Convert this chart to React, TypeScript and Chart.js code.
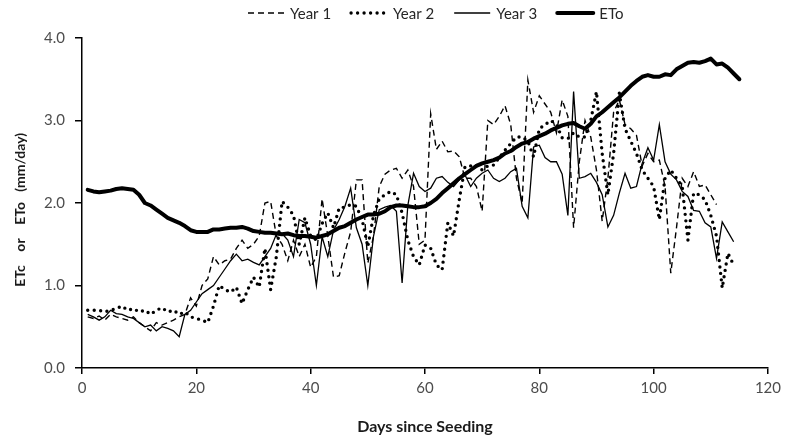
import React, { useEffect, useRef } from "react";
import { Chart, registerables } from "chart.js";

Chart.register(...registerables);

// Days since seeding (x values)
const days = Array.from({ length: 115 }, (_, i) => i + 1);

// Crop ET (mm/day) for each year, and reference ETo (mm/day)
const year1 = [
  0.62, 0.6, 0.63, 0.58, 0.65, 0.62, 0.6, 0.58, 0.62, 0.55,
  0.5, 0.45, 0.55, 0.52, 0.55, 0.58, 0.62, 0.65, 0.85, 0.75,
  1.0, 1.08, 1.35, 1.25, 1.3, 1.32, 1.45, 1.55, 1.45, 1.5,
  1.6, 2.0, 2.02, 1.6, 1.5, 1.3, 1.55, 1.35, 1.5, 1.22,
  1.35, 2.05, 1.6, 1.1, 1.12, 1.4, 1.65, 2.28, 2.28, 1.27,
  1.6, 2.2, 2.35, 2.4, 2.42, 2.3, 2.4, 2.2, 1.5, 1.55,
  3.08, 2.65, 2.75, 2.62, 2.63, 2.56, 2.3, 2.3, 2.2, 1.9,
  3.0, 2.95, 3.05, 3.18, 2.95, 2.3, 2.0, 3.49, 3.1, 3.3,
  3.2, 3.1, 2.85, 3.25, 3.05, 1.7, 2.5, 3.0, 2.8, 2.4,
  1.78, 2.3, 3.1, 3.25, 2.95, 2.9, 2.82, 2.45, 2.6, 2.5,
  2.52, 2.2, 1.15, 1.7, 2.3, 2.2, 2.38, 2.2, 2.22, 2.1,
  1.98,
];

const year2 = [
  0.7, 0.7, 0.7, 0.68, 0.7, 0.72, 0.75, 0.7, 0.72, 0.68,
  0.7, 0.65, 0.7, 0.73, 0.68, 0.7, 0.65, 0.68, 0.62, 0.6,
  0.58, 0.55, 0.75, 1.0, 0.95, 0.92, 0.98, 0.78, 0.95, 1.1,
  0.98, 1.45, 0.95, 1.35, 2.02, 1.95, 1.85, 1.5, 1.82, 1.6,
  1.55, 1.75, 1.88, 1.7, 1.94, 1.95, 1.98, 1.96, 1.8, 1.47,
  1.85, 2.05, 2.1, 2.14, 2.1, 1.88, 1.55, 1.35, 1.25, 1.49,
  1.45, 1.25, 1.19, 1.76, 1.6, 2.04, 2.44, 2.45, 2.46, 2.4,
  2.45, 2.46, 2.55, 2.64, 2.72, 2.8, 2.8, 2.75, 2.56, 2.9,
  2.95, 3.0, 2.95, 2.79, 2.78, 2.85, 2.8, 2.8, 3.0, 3.35,
  2.6, 2.1, 2.6, 3.33, 2.9, 2.75, 2.6, 2.4, 2.3, 2.2,
  1.8, 2.3, 2.4, 2.3, 2.2, 1.55, 2.12, 2.1, 2.04, 1.85,
  1.6, 0.97, 1.39, 1.25,
];

const year3 = [
  0.65, 0.62, 0.58, 0.62, 0.7, 0.66, 0.65, 0.62, 0.6, 0.55,
  0.5, 0.52, 0.45, 0.5, 0.48, 0.45, 0.38, 0.65, 0.7, 0.8,
  0.9, 0.95, 1.0, 1.1, 1.2, 1.3, 1.38, 1.3, 1.32, 1.28,
  1.25, 1.35, 1.45, 1.62, 1.63, 1.55, 1.35, 1.8, 1.76, 1.5,
  1.0, 1.59, 1.35, 1.67, 1.8, 1.96, 2.18, 1.7, 1.5, 1.0,
  1.6, 1.92, 1.95, 1.97, 1.9, 1.03, 1.97, 2.36, 2.2, 2.14,
  2.18, 2.3, 2.32, 2.25, 2.2, 2.28, 2.34, 2.2, 2.3, 2.36,
  2.4, 2.3, 2.26, 2.3, 2.38, 2.42, 1.96, 1.82, 2.68, 2.7,
  2.55, 2.5, 2.5, 2.35, 1.85, 3.35, 2.3, 2.32, 2.36, 2.25,
  2.1, 1.71, 1.85, 2.12, 2.36, 2.18, 2.2, 2.48, 2.67, 2.52,
  2.95, 2.5, 2.35, 2.28, 2.14, 2.08, 1.91, 1.9, 1.76, 1.71,
  1.33, 1.77, 1.65, 1.53,
];

const eto = [
  2.16, 2.14, 2.13, 2.14, 2.15, 2.17, 2.18, 2.17, 2.16, 2.1,
  2.0, 1.97, 1.92, 1.87, 1.82, 1.79, 1.76, 1.72, 1.67, 1.65,
  1.65, 1.65, 1.68, 1.68, 1.69, 1.7, 1.7, 1.71, 1.69, 1.66,
  1.65, 1.64, 1.64, 1.63, 1.62, 1.63, 1.61, 1.6, 1.6, 1.59,
  1.58, 1.6, 1.62, 1.66, 1.7, 1.72, 1.76, 1.8, 1.83, 1.86,
  1.86, 1.87, 1.9, 1.95, 1.97, 1.97, 1.96, 1.95, 1.95, 1.96,
  2.0, 2.05, 2.12, 2.18, 2.24, 2.3, 2.35, 2.4, 2.45, 2.48,
  2.5, 2.52, 2.55, 2.6, 2.63, 2.68, 2.72, 2.74, 2.78, 2.81,
  2.84, 2.88, 2.91, 2.94, 2.96, 2.97, 2.93, 2.9, 2.96, 3.05,
  3.1, 3.16, 3.22, 3.28, 3.35, 3.42, 3.48, 3.53, 3.55, 3.53,
  3.53, 3.56, 3.55, 3.62, 3.66, 3.7, 3.71, 3.7, 3.72, 3.75,
  3.68, 3.69, 3.64, 3.57, 3.5,
];

const seriesLabels = ["Year 1", "Year 2", "Year 3", "ETo"];
const xTitle = "Days since Seeding";
const yTitle = "ETc    or    ETo   (mm/day)    ";

const FONT = "Lato, 'Open Sans', sans-serif";

const toPoints = (vals: number[]) => vals.map((v, i) => ({ x: days[i], y: v }));

const legendPlugin = {
  id: "excelLegend",
  afterDraw(chart: any) {
    const ctx = chart.ctx;
    const y = 13;
    let x = 248;
    const sampleW = 36;
    ctx.save();
    ctx.font = `15px ${FONT}`;
    ctx.textBaseline = "middle";
    chart.data.datasets.forEach((ds: any) => {
      ctx.beginPath();
      ctx.setLineDash(ds.borderDash || []);
      ctx.lineCap = ds.borderCapStyle || "butt";
      ctx.lineWidth = ds.borderWidth;
      ctx.strokeStyle = ds.borderColor;
      ctx.moveTo(x, y);
      ctx.lineTo(x + sampleW, y);
      ctx.stroke();
      x += sampleW + 6;
      ctx.setLineDash([]);
      ctx.fillStyle = "#262626";
      ctx.fillText(ds.label, x, y + 1);
      x += ctx.measureText(ds.label).width + 20;
    });
    ctx.restore();
  },
};

export default function App() {
  const canvasRef = useRef<HTMLCanvasElement | null>(null);

  useEffect(() => {
    document.body.style.margin = "0";
    const canvas = canvasRef.current;
    if (!canvas) return;
    const chart = new Chart(canvas, {
      type: "line",
      data: {
        datasets: [
          {
            label: seriesLabels[0],
            data: toPoints(year1),
            borderColor: "#000",
            borderWidth: 1.4,
            borderDash: [6, 4],
            pointRadius: 0,
            tension: 0,
            order: 2,
          },
          {
            label: seriesLabels[1],
            data: toPoints(year2),
            borderColor: "#000",
            borderWidth: 3.4,
            borderDash: [0, 6.5],
            borderCapStyle: "round",
            pointRadius: 0,
            tension: 0,
            order: 3,
          },
          {
            label: seriesLabels[2],
            data: toPoints(year3),
            borderColor: "#000",
            borderWidth: 1.3,
            pointRadius: 0,
            tension: 0,
            order: 1,
          },
          {
            label: seriesLabels[3],
            data: toPoints(eto),
            borderColor: "#000",
            borderWidth: 4,
            borderJoinStyle: "round",
            borderCapStyle: "round",
            pointRadius: 0,
            tension: 0,
            order: 0,
          },
        ],
      },
      options: {
        responsive: false,
        animation: false,
        layout: { padding: { top: 38, right: 18, left: 0, bottom: 0 } },
        plugins: {
          legend: { display: false },
          tooltip: { enabled: false },
        },
        scales: {
          x: {
            type: "linear",
            min: 0,
            max: 120,
            ticks: {
              stepSize: 20,
              color: "#4d4d4d",
              font: { family: FONT, size: 15 },
              padding: 5,
              maxRotation: 0,
            },
            grid: {
              display: true,
              drawOnChartArea: false,
              drawTicks: true,
              tickLength: 6,
              color: "#000",
              lineWidth: 1.5,
            },
            border: { display: true, color: "#000", width: 1.5 },
            title: {
              display: true,
              text: xTitle,
              color: "#1a1a1a",
              font: { family: FONT, size: 16, weight: "bold" },
              padding: { top: 0, bottom: 4 },
            },
            afterFit: (s: any) => {
              s.height = 72;
            },
          },
          y: {
            min: 0,
            max: 4,
            ticks: {
              stepSize: 1,
              color: "#4d4d4d",
              font: { family: FONT, size: 15 },
              padding: 10,
              callback: (v: any) => Number(v).toFixed(1),
            },
            grid: {
              display: true,
              drawOnChartArea: false,
              drawTicks: true,
              tickLength: 7,
              color: "#000",
              lineWidth: 1.5,
            },
            border: { display: true, color: "#000", width: 1.5 },
            title: {
              display: true,
              text: yTitle,
              color: "#1a1a1a",
              font: { family: FONT, size: 14, weight: "bold" },
              padding: { top: 12, bottom: 0 },
            },
            afterFit: (s: any) => {
              s.width = 82;
            },
          },
        },
      },
      plugins: [legendPlugin],
    });
    return () => chart.destroy();
  }, []);

  return (
    <div style={{ width: 786, height: 440, background: "#fff" }}>
      <canvas ref={canvasRef} width={786} height={440} />
    </div>
  );
}
